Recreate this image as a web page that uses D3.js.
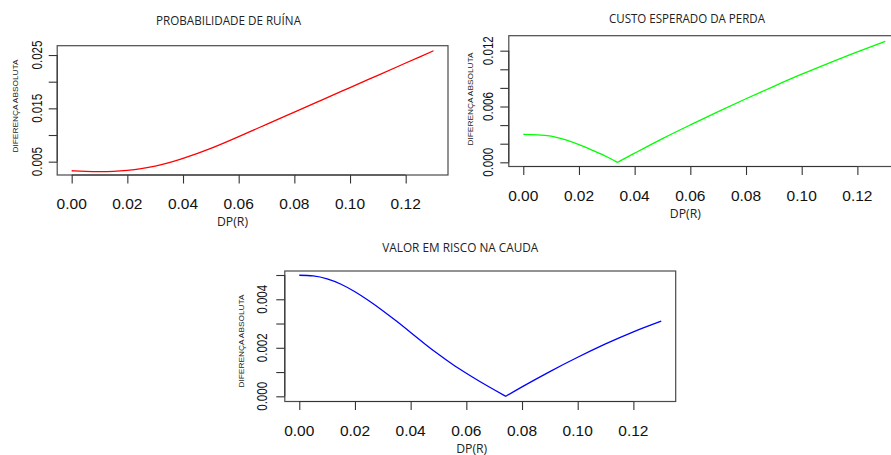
<!DOCTYPE html>
<html>
<head>
<meta charset="utf-8">
<script src="https://cdn.jsdelivr.net/npm/d3@7"></script>
<style>
  html, body { margin: 0; padding: 0; background: #ffffff; }
  svg { display: block; }
</style>
</head>
<body>
<svg id="fig" width="891" height="455"></svg>
<script>
// DP(R) grid and absolute differences for each risk measure
const dpRuina = [0, 0.005, 0.01, 0.015, 0.02, 0.025, 0.03, 0.035, 0.04, 0.05, 0.06, 0.07, 0.08, 0.09, 0.10, 0.11, 0.12, 0.13];
const ruina   = [0.0033, 0.00318, 0.00312, 0.00318, 0.00337, 0.00368, 0.00415, 0.0048, 0.0056, 0.0075, 0.0097, 0.0120, 0.0143, 0.0166, 0.0189, 0.0212, 0.0235, 0.0258];

const dpCusto = [0, 0.005, 0.01, 0.015, 0.02, 0.025, 0.03, 0.0338, 0.04, 0.05, 0.06, 0.07, 0.08, 0.09, 0.10, 0.11, 0.12, 0.13];
const custo   = [0.0030, 0.00296, 0.00282, 0.00243, 0.0019, 0.00127, 0.0006, 0, 0.00098, 0.00255, 0.00402, 0.00545, 0.00683, 0.00817, 0.00947, 0.01070, 0.01188, 0.01300];

const dpTvar = [0, 0.005, 0.01, 0.015, 0.02, 0.025, 0.03, 0.035, 0.04, 0.045, 0.05, 0.055, 0.06, 0.065, 0.07, 0.0742, 0.08, 0.09, 0.10, 0.11, 0.12, 0.13];
const tvar   = [0.00499, 0.00496, 0.00484, 0.00462, 0.00431, 0.00394, 0.00353, 0.00309, 0.00263, 0.00217, 0.00173, 0.00132, 0.00095, 0.00060, 0.00027, 0, 0.00039, 0.00102, 0.00161, 0.00216, 0.00266, 0.00310];

// Axis ticks
const xTicks = [0, 0.02, 0.04, 0.06, 0.08, 0.10, 0.12];
const yTicksRuina  = [0.005, 0.010, 0.015, 0.020, 0.025];
const yLabelsRuina = [0.005, 0.015, 0.025];
const yTicksCusto  = [0, 0.002, 0.004, 0.006, 0.008, 0.010, 0.012];
const yLabelsCusto = [0, 0.006, 0.012];
const yTicksTvar   = [0, 0.001, 0.002, 0.003, 0.004, 0.005];
const yLabelsTvar  = [0, 0.002, 0.004];

const titles = ["PROBABILIDADE DE RUÍNA", "CUSTO ESPERADO DA PERDA", "VALOR EM RISCO NA CAUDA"];
const xTitle = "DP(R)";
const yTitle = "DIFERENÇA ABSOLUTA";

const svg = d3.select("#fig");
const xDomain = [-0.0052, 0.1352];
const fmt = d3.format(".2f");

function panel(p) {
  const g = svg.append("g");
  const x = d3.scaleLinear().domain(xDomain).range([p.left, p.right]);
  const y = d3.scaleLinear().domain(p.yDomain).range([p.bottom, p.top]);
  const tickLen = 8.5;

  // line, split at its minimum so a kink stays sharp
  const pts = p.xs.map((d, i) => [d, p.ys[i]]);
  const segs = p.splitAtMin
    ? (() => { const k = d3.minIndex(p.ys); return [pts.slice(0, k + 1), pts.slice(k)]; })()
    : [pts];
  const line = d3.line().x(d => x(d[0])).y(d => y(d[1])).curve(d3.curveNatural);
  segs.forEach(s => {
    g.append("path").attr("d", line(s))
      .attr("fill", "none").attr("stroke", p.color)
      .attr("stroke-width", 1.3).attr("stroke-linejoin", "round");
  });

  // plot box
  g.append("rect")
    .attr("x", p.left).attr("y", p.top)
    .attr("width", p.right - p.left).attr("height", p.bottom - p.top)
    .attr("fill", "none").attr("stroke", "#4a4a4a").attr("stroke-width", 1.2);

  // x axis
  const xa = g.append("g").attr("transform", `translate(0,${p.bottom})`)
    .call(d3.axisBottom(x).tickValues(xTicks).tickSize(tickLen).tickFormat(""));
  xa.select(".domain").attr("d", `M${x(xTicks[0])},0H${x(xTicks[xTicks.length - 1])}`)
    .attr("stroke", "#333");
  xa.selectAll(".tick line").attr("stroke", "#333").attr("stroke-width", 1.1);
  g.selectAll(null).data(xTicks).enter().append("text")
    .attr("x", d => x(d)).attr("y", p.bottom + 34)
    .attr("text-anchor", "middle")
    .attr("font-family", "Liberation Sans, Arial, sans-serif")
    .attr("font-size", 15.5).attr("fill", "#111")
    .text(d => fmt(d));

  // y axis
  const ya = g.append("g").attr("transform", `translate(${p.left},0)`)
    .call(d3.axisLeft(y).tickValues(p.yTicks).tickSize(tickLen).tickFormat(""));
  ya.select(".domain").attr("d", `M0,${y(p.yTicks[0])}V${y(p.yTicks[p.yTicks.length - 1])}`)
    .attr("stroke", "#333");
  ya.selectAll(".tick line").attr("stroke", "#333").attr("stroke-width", 1.1);
  g.selectAll(null).data(p.yLabels).enter().append("text")
    .attr("transform", d => `translate(${p.left - p.labelGap},${y(d)}) rotate(-90)`)
    .attr("text-anchor", "middle")
    .attr("font-family", "Liberation Sans, Arial, sans-serif")
    .attr("font-size", 15.5).attr("fill", "#111")
    .attr("textLength", 29).attr("lengthAdjust", "spacingAndGlyphs")
    .text(d => d3.format(".3f")(d));

  // titles
  g.append("text")
    .attr("x", p.titleX).attr("y", p.titleY)
    .attr("text-anchor", "middle")
    .attr("font-family", "Open Sans, sans-serif").attr("font-size", 11.8)
    .attr("fill", "#222")
    .attr("textLength", p.titleW).attr("lengthAdjust", "spacingAndGlyphs")
    .text(p.title);
  g.append("text")
    .attr("x", p.xTitleX).attr("y", p.bottom + 51)
    .attr("text-anchor", "middle")
    .attr("font-family", "Open Sans, sans-serif").attr("font-size", 11.8)
    .attr("fill", "#222")
    .attr("textLength", 31).attr("lengthAdjust", "spacingAndGlyphs")
    .text(xTitle);
  g.append("text")
    .attr("transform", `translate(${p.left - p.yTitleGap},${p.yTitleY}) rotate(-90)`)
    .attr("text-anchor", "middle")
    .attr("font-family", "Liberation Sans, Arial, sans-serif").attr("font-size", 8)
    .attr("fill", "#222")
    .attr("textLength", 93).attr("lengthAdjust", "spacingAndGlyphs")
    .text(yTitle);
}

panel({
  xs: dpRuina, ys: ruina, color: "#ff0000", splitAtMin: false,
  left: 57.2, right: 448, top: 45.7, bottom: 175,
  yDomain: [0.0025, 0.02675], yTicks: yTicksRuina, yLabels: yLabelsRuina,
  labelGap: 15, yTitleGap: 39, yTitleY: 106,
  title: titles[0], titleX: 228.5, titleY: 25, titleW: 145, xTitleX: 232.5
});

panel({
  xs: dpCusto, ys: custo, color: "#00ff00", splitAtMin: true,
  left: 508.8, right: 899.7, top: 35.7, bottom: 166.5,
  yDomain: [-0.00045, 0.01361], yTicks: yTicksCusto, yLabels: yLabelsCusto,
  labelGap: 15.5, yTitleGap: 36, yTitleY: 99,
  title: titles[1], titleX: 687, titleY: 23.3, titleW: 156, xTitleX: 685.3
});

panel({
  xs: dpTvar, ys: tvar, color: "#0000ff", splitAtMin: true,
  left: 284.8, right: 675.7, top: 271, bottom: 401.5,
  yDomain: [-0.000214, 0.005165], yTicks: yTicksTvar, yLabels: yLabelsTvar,
  labelGap: 18, yTitleGap: 41, yTitleY: 341,
  title: titles[2], titleX: 460.3, titleY: 251.7, titleW: 156, xTitleX: 471.7
});
</script>
</body>
</html>
